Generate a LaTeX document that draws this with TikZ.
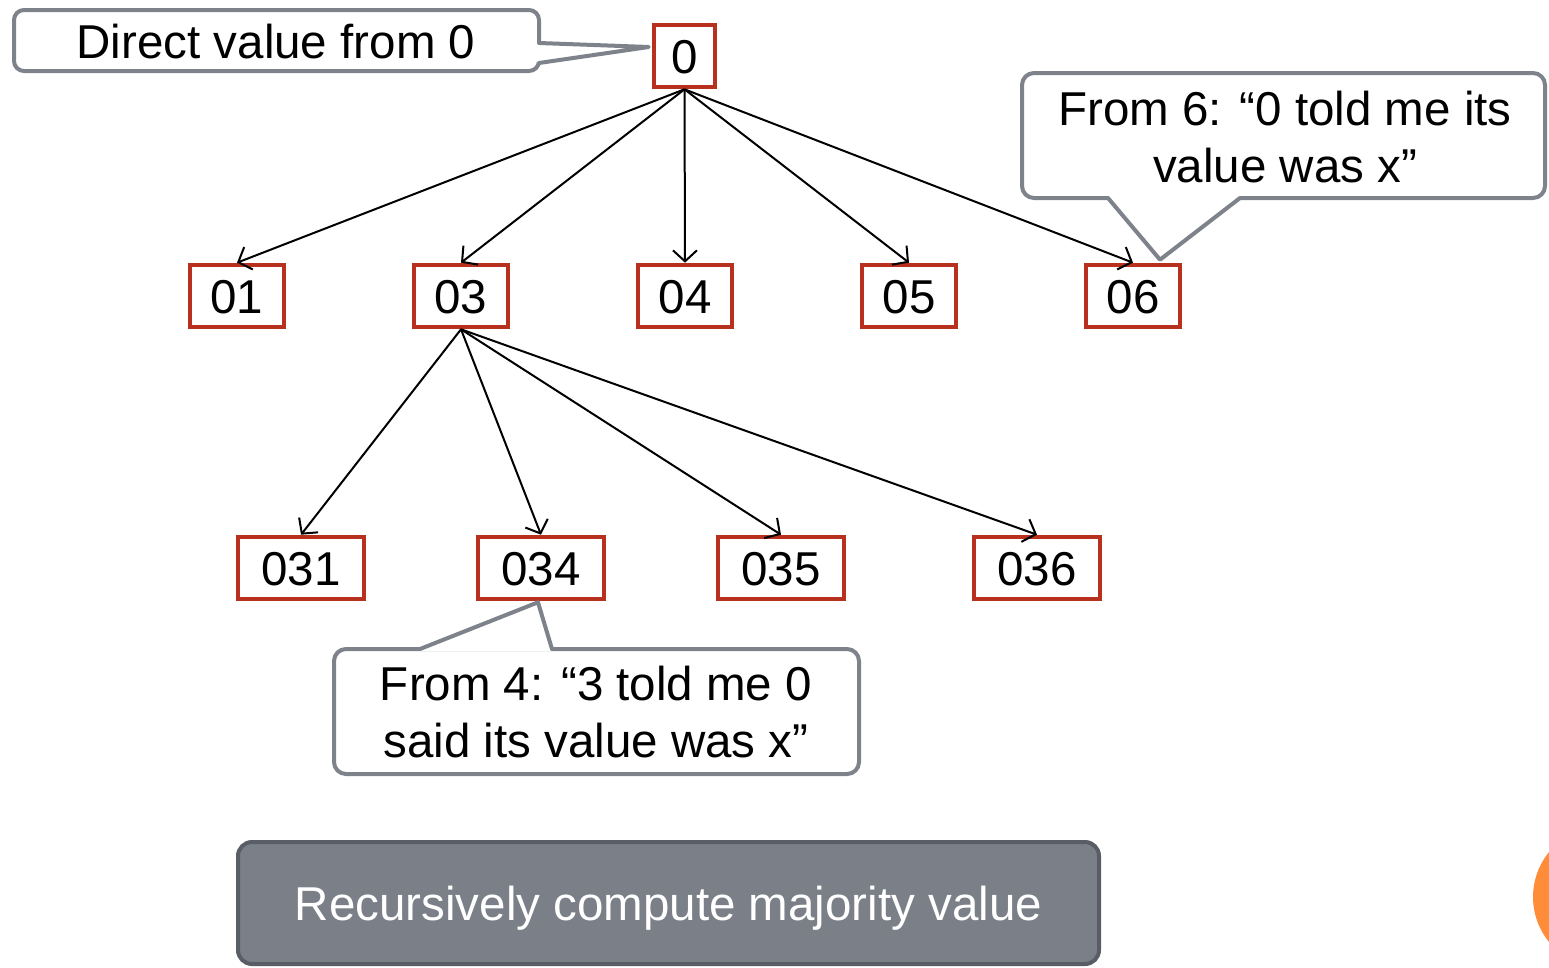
\documentclass[tikz,border=0pt]{standalone}
\usepackage{fontspec}
\setmainfont{Liberation Sans}
\usetikzlibrary{arrows.meta,calc}
\definecolor{boxred}{RGB}{184,49,31}
\definecolor{callgray}{RGB}{125,130,139}
\definecolor{barfill}{RGB}{122,127,136}
\definecolor{barline}{RGB}{88,93,102}
\definecolor{dotorange}{RGB}{255,140,56}
\begin{document}
\begin{tikzpicture}[x=1pt,y=-1pt,
  every node/.style={font=\fontsize{47.5}{57}\selectfont},
  tnode/.style={draw=boxred, line width=4.6pt, minimum height=62pt, inner sep=0pt, text height=34pt, text depth=0pt},
  arr/.style={line width=2pt, -{Straight Barb[length=11pt,width=24pt]}},
  callbox/.style={draw=callgray, line width=4pt, fill=white, rounded corners=12pt},
  seam/.style={white, line width=4.6pt},
  pointer/.style={draw=callgray, line width=4pt, line cap=round, line join=round},
  calltext/.style={align=center, inner sep=0pt},
  barbox/.style={draw=barline, fill=barfill, line width=4pt, rounded corners=14pt, text=white, inner sep=0pt, text height=34pt, text depth=0pt}]
\useasboundingbox (0,0) rectangle (1549,967);

% tree nodes
\node[tnode, minimum width=61pt] (n0) at (684.5,56) {0};
\node[tnode, minimum width=94pt] (n01) at (237,296) {01};
\node[tnode, minimum width=94pt] (n03) at (461,296) {03};
\node[tnode, minimum width=94pt] (n04) at (685,296) {04};
\node[tnode, minimum width=94pt] (n05) at (909,296) {05};
\node[tnode, minimum width=94pt] (n06) at (1133,296) {06};
\node[tnode, minimum width=126pt] (n031) at (301,568) {031};
\node[tnode, minimum width=126pt] (n034) at (541,568) {034};
\node[tnode, minimum width=126pt] (n035) at (781,568) {035};
\node[tnode, minimum width=126pt] (n036) at (1037,568) {036};

% connectors
\foreach \c in {n01,n03,n04,n05,n06} \draw[arr] (n0.south) -- (\c.north);
\foreach \c in {n031,n034,n035,n036} \draw[arr] (n03.south) -- (\c.north);

% callout 1
\draw[callbox, rounded corners=10pt] (14,10) rectangle (539,71);
\coordinate (t1) at ($(n0.west)+(-3,-9)$);
\fill[white] (539,43) -- (t1) -- (539,63) -- cycle;
\draw[seam] (539,43) -- (539,63);
\draw[pointer] (539,43) -- (t1) -- (539,63);
\node[calltext] (c1) at (276,42) {Direct value from 0};

% callout 2
\draw[callbox] (1022,73) rectangle (1545,198);
\coordinate (t2) at ($(n06.north)+(27,-3)$);
\fill[white] (1108,198) -- (t2) -- (1240,198) -- cycle;
\draw[seam] (1108,198) -- (1240,198);
\draw[pointer] (1108,198) -- (t2) -- (1240,198);
\node[calltext] (c2) at (1285,137) {From 6: “0 told me its\\value was x”};

% callout 3
\draw[callbox] (334,649) rectangle (859,774);
\coordinate (t3) at ($(n034.south)+(-3,1)$);
\fill[white] (420,649) -- (t3) -- (552,649) -- cycle;
\draw[seam] (420,649) -- (552,649);
\draw[pointer] (420,649) -- (t3) -- (552,649);
\node[calltext] (c3) at (596,712) {From 4: “3 told me 0\\said its value was x”};

% bottom bar
\node[barbox, minimum width=861pt, minimum height=122pt] (bar) at (668.5,903) {Recursively compute majority value};

% orange dot at the edge
\fill[dotorange] (1604,897) circle[radius=71];
\end{tikzpicture}
\end{document}
